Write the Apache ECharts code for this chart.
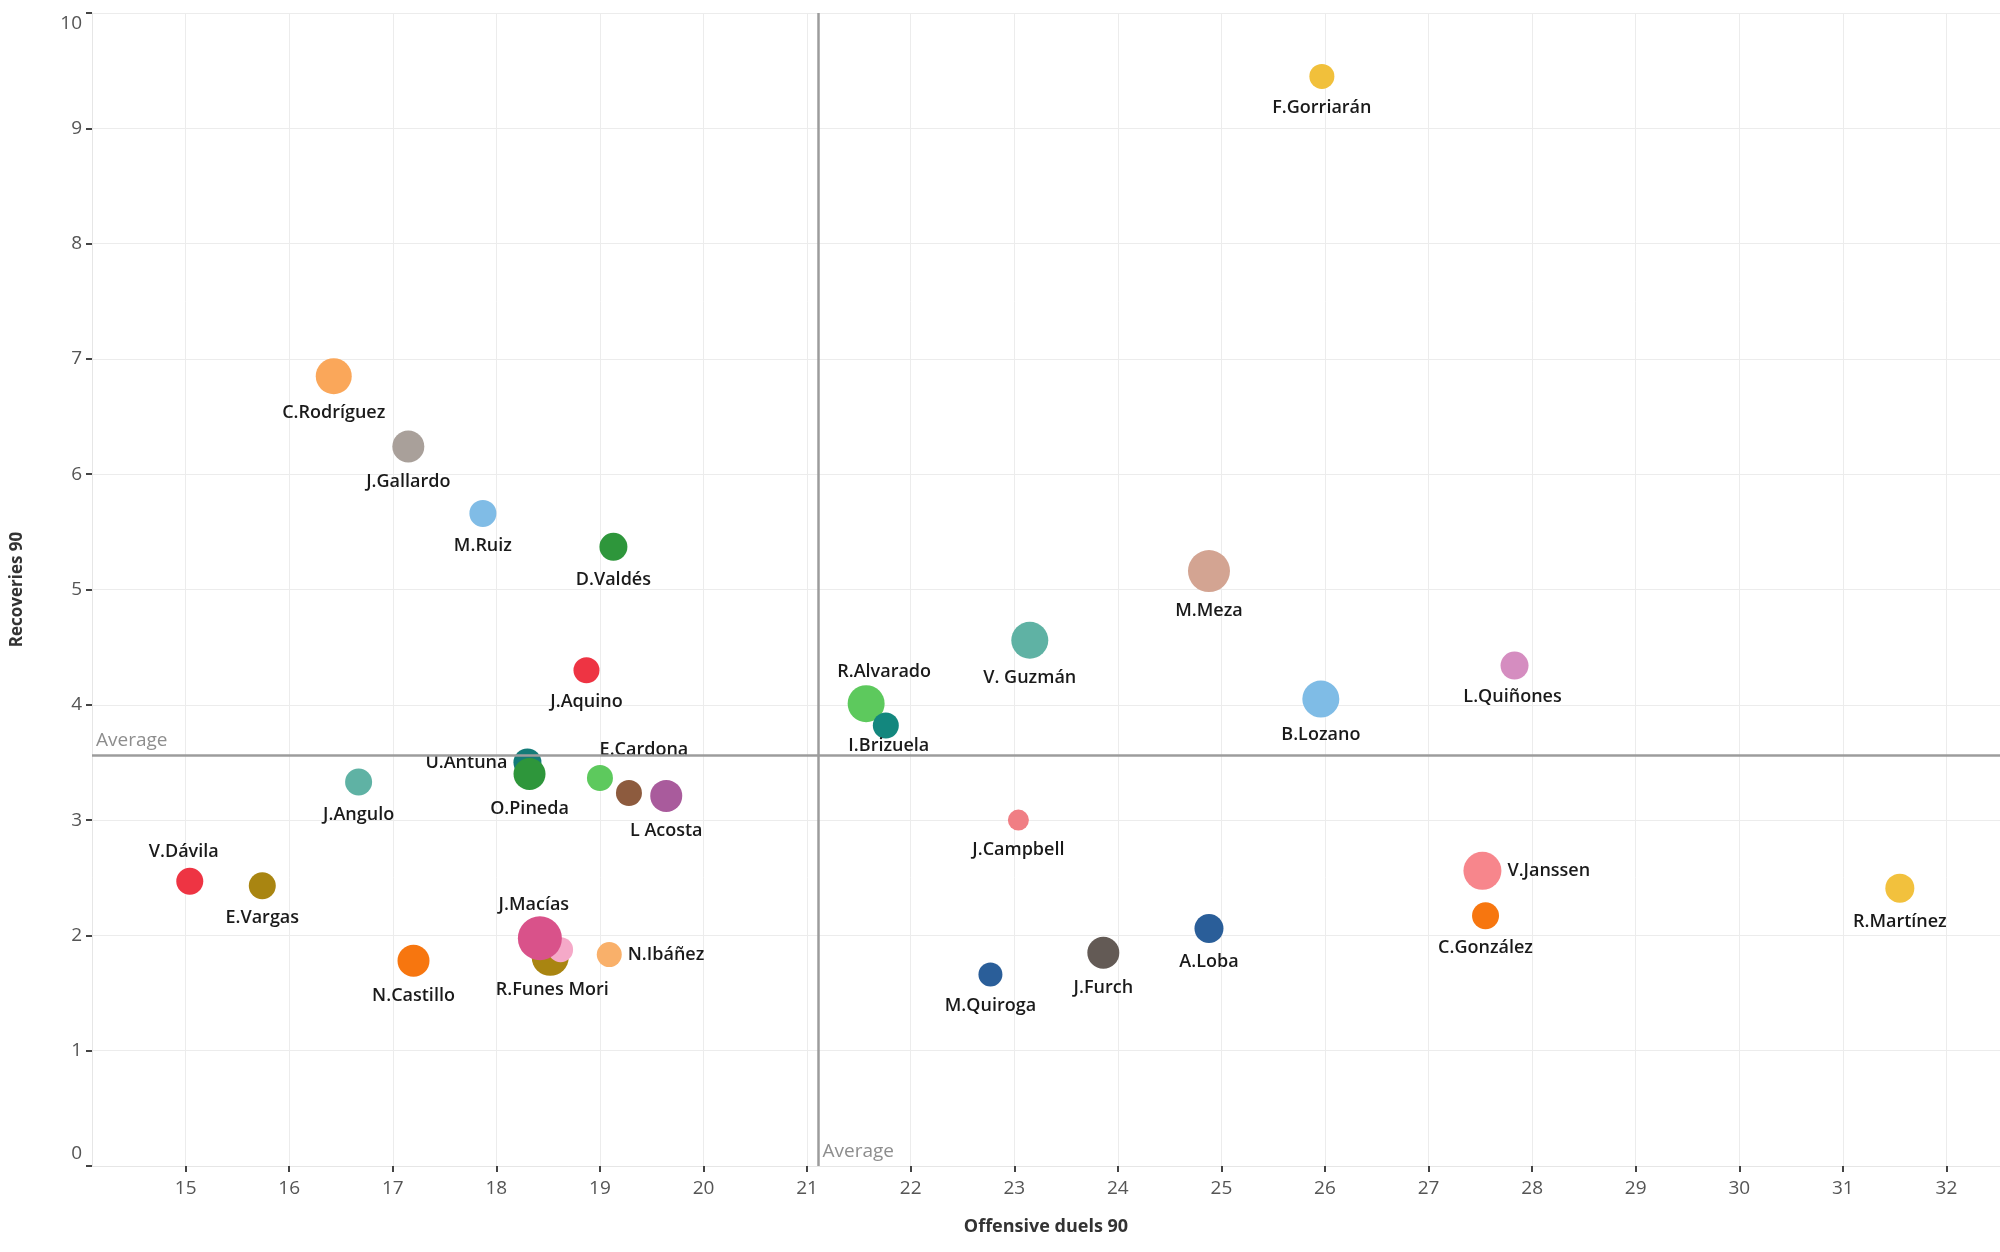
<!DOCTYPE html>
<html>
<head>
<meta charset="utf-8">
<script src="https://cdn.jsdelivr.net/npm/echarts@6/dist/echarts.min.js"></script>
<style>
html,body{margin:0;padding:0;background:#fff;}
#chart{width:2000px;height:1252px;}
</style>
</head>
<body>
<div id="chart"></div>
<script>
// ---- data ----
const players = ['F.Gorriarán','C.Rodríguez','J.Gallardo','M.Ruiz','D.Valdés','J.Aquino','R.Alvarado','I.Brizuela','V. Guzmán','M.Meza','L.Quiñones','B.Lozano','U.Antuna','O.Pineda','E.Cardona','','L Acosta','J.Angulo','J.Campbell','V.Dávila','E.Vargas','R.Funes Mori','','J.Macías','N.Ibáñez','N.Castillo','M.Quiroga','J.Furch','A.Loba','V.Janssen','C.González','R.Martínez'];
const offensiveDuels90 = [25.97,16.43,17.15,17.87,19.13,18.87,21.57,21.76,23.15,24.88,27.83,25.96,18.30,18.32,19.00,19.28,19.64,16.67,23.04,15.04,15.74,18.52,18.62,18.42,19.09,17.20,22.77,23.86,24.88,27.52,27.55,31.55];
const recoveries90 = [9.45,6.85,6.24,5.66,5.37,4.30,4.01,3.82,4.56,5.16,4.34,4.05,3.50,3.40,3.365,3.235,3.21,3.33,3.00,2.47,2.43,1.81,1.876,1.975,1.834,1.78,1.66,1.85,2.06,2.56,2.17,2.41];
const bubbleValue = [25,36,32,27,28,26,37,26,37,42,28,37,28,32,26,26,32,27,21,27,27,37,25,44,25,32,24,32,29,38,27,29];
const pointColors = ['#F1C03B','#FAA75A','#A9A09A','#80BCE6','#2E963B','#EE3443','#5DC95D','#13877E','#5FB2A4','#D3A492','#D58DC0','#7FBCE6','#147B78','#2E963B','#5DC95D','#8D5B3E','#A95B9C','#5FB2A4','#F07E84','#EE3443','#A98511','#A98511','#F5A9C8','#D9528A','#F9B06A','#F7760F','#2A5E99','#635A55','#2A5E99','#F7868C','#F7760F','#F2C13D'];
const avgOffensiveDuels = 21.11;
const avgRecoveries = 3.56;
const xTicks = [15,16,17,18,19,20,21,22,23,24,25,26,27,28,29,30,31,32];
const yTicks = [0,1,2,3,4,5,6,7,8,9,10];
const xTitle = 'Offensive duels 90';
const yTitle = 'Recoveries 90';
const avgText = 'Average';

// ---- label placement (style) ----
const labelPlacement = {
  'R.Alvarado': {position:'top', shift:[18,6]},
  'J.Macías': {position:'top', shift:[-6,8]},
  'V.Dávila': {position:'top', shift:[-6,3]},
  'E.Cardona': {position:'top', shift:[44,4]},
  'V.Janssen': {position:'right', shift:[-4,0]},
  'N.Ibáñez': {position:'right', shift:[-4,0]},
  'U.Antuna': {position:'left', shift:[4,0]},
  'I.Brizuela': {position:'bottom', shift:[3,-12]},
  'R.Funes Mori': {position:'bottom', shift:[2,-5]},
  'L.Quiñones': {position:'bottom', shift:[-2,-2]},
  'B.Lozano': {position:'bottom', shift:[0,-2]}
};

const FONT = '"Open Sans", "Noto Sans", sans-serif';
const xMin = 14.096, xMax = 32.517;

const points = players.map((n, i) => {
  const lp = labelPlacement[n] || {position:'bottom'};
  return {
    name: n,
    value: [offensiveDuels90[i], recoveries90[i], bubbleValue[i]],
    itemStyle: {color: pointColors[i]},
    label: {show: n !== '', position: lp.position}
  };
});

const chart = echarts.init(document.getElementById('chart'));
chart.setOption({
  backgroundColor: '#ffffff',
  animation: false,
  grid: {left: 92, right: 0, top: 13, bottom: 86, containLabel: false},
  xAxis: {
    type: 'value', min: xMin, max: xMax,
    name: xTitle, nameLocation: 'middle', nameGap: 52,
    nameTextStyle: {fontFamily: FONT, fontSize: 18, fontWeight: 'bold', color: '#333'},
    axisLine: {show: true, lineStyle: {color: '#e6e6e6', width: 1}},
    axisTick: {show: true, length: 6, lineStyle: {color: '#444', width: 2}, customValues: xTicks},
    axisLabel: {fontFamily: FONT, fontSize: 19, color: '#555', margin: 13, customValues: xTicks},
    splitLine: {show: true, lineStyle: {color: '#ececec', width: 1}}
  },
  yAxis: {
    type: 'value', min: 0, max: 10, interval: 1,
    name: yTitle, nameLocation: 'middle', nameGap: 66, nameRotate: 90,
    nameTextStyle: {fontFamily: FONT, fontSize: 17, fontWeight: 'bold', color: '#333'},
    axisLine: {show: true, lineStyle: {color: '#e6e6e6', width: 1}},
    axisTick: {show: true, length: 6, lineStyle: {color: '#444', width: 2}, customValues: yTicks},
    axisLabel: {
      fontFamily: FONT, fontSize: 19, color: '#555', margin: 10, customValues: yTicks,
      formatter: v => v === 10 ? '{t|10}' : (v === 0 ? '{b|0}' : String(v)),
      rich: {
        t: {fontFamily: FONT, fontSize: 19, color: '#555', padding: [22, 0, 0, 0]},
        b: {fontFamily: FONT, fontSize: 19, color: '#555', padding: [0, 0, 24, 0]}
      }
    },
    splitLine: {show: true, lineStyle: {color: '#ececec', width: 1}}
  },
  series: [
    {
      type: 'scatter', z: 1, silent: true, data: [],
      markLine: {
        silent: true, symbol: ['none', 'none'], animation: false,
        lineStyle: {color: '#9c9c9c', width: 2.5, type: 'solid'},
        label: {show: false},
        data: [{xAxis: avgOffensiveDuels}, {yAxis: avgRecoveries}]
      }
    },
    {
      type: 'scatter', z: 2, silent: true,
      symbolSize: 0,
      data: [
        {value: [xMin, avgRecoveries], label: {offset: [0, -15]}},
        {value: [avgOffensiveDuels, 0], label: {offset: [0, -14]}}
      ],
      label: {show: true, position: 'right', distance: 4, formatter: avgText,
        fontFamily: FONT, fontSize: 19, color: '#707070'}
    },
    {
      type: 'scatter', z: 3,
      symbol: 'circle',
      symbolSize: d => d[2],
      data: points,
      itemStyle: {opacity: 1},
      label: {
        show: true, formatter: p => p.name, distance: 10,
        fontFamily: FONT, fontSize: 18, fontWeight: 600, color: '#1a1a1a'
      },
      labelLayout: p => {
        const lp = labelPlacement[players[p.dataIndex]];
        const s = lp && lp.shift ? lp.shift : [0, 0];
        return {dx: s[0], dy: s[1], hideOverlap: false};
      }
    }
  ]
});
</script>
</body>
</html>
